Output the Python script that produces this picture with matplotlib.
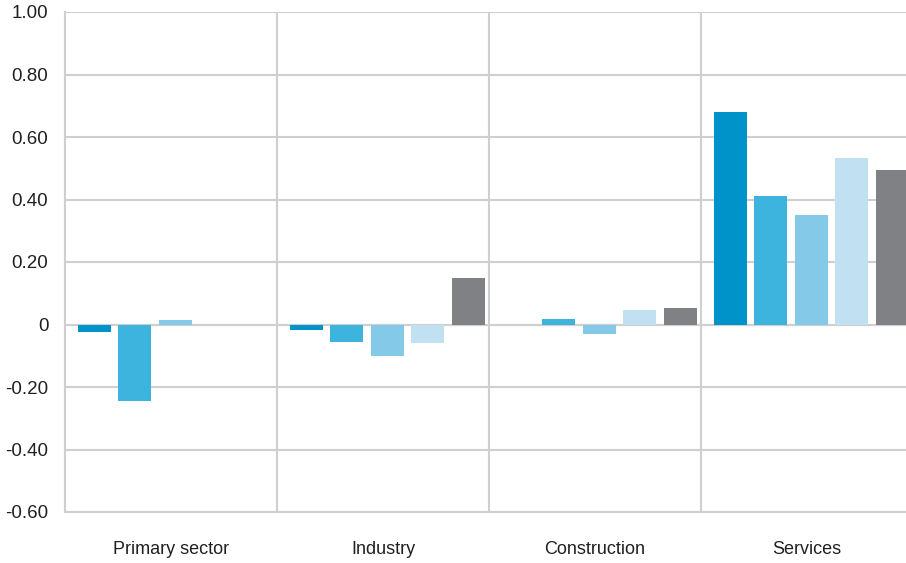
import matplotlib.pyplot as plt
import numpy as np

# Values
categories = ['Primary sector', 'Industry', 'Construction', 'Services']
series_1 = [-0.025, -0.018, 0.0, 0.68]
series_2 = [-0.245, -0.056, 0.018, 0.411]
series_3 = [0.015, -0.10, -0.03, 0.35]
series_4 = [0.0, -0.059, 0.046, 0.533]
series_5 = [0.0, 0.149, 0.053, 0.494]
yticks = [-0.6, -0.4, -0.2, 0, 0.2, 0.4, 0.6, 0.8, 1.0]
ytick_labels = ['-0.60', '-0.40', '-0.20', '0', '0.20', '0.40', '0.60', '0.80', '1.00']

colors = ['#0093c9', '#3db4dd', '#85c9e9', '#c1e1f2', '#808185']
all_series = [series_1, series_2, series_3, series_4, series_5]

plt.rcParams['font.family'] = ['Liberation Sans', 'DejaVu Sans']

W, H = 906, 563
fig = plt.figure(figsize=(W / 100, H / 100), dpi=100)
ax = fig.add_axes([65 / W, (H - 512) / H, (913 - 65) / W, (512 - 12) / H])

x = np.arange(len(categories)) + 0.5
pitch = 0.191
width = 0.156
for i, (vals, c) in enumerate(zip(all_series, colors)):
    ax.bar(x + (i - 2) * pitch + 0.02, vals, width=width, color=c, zorder=3)

ax.set_xlim(0, 4)
ax.set_ylim(-0.6, 1.0)
ax.set_yticks(yticks)
ax.set_yticklabels(ytick_labels, fontsize=13.5, color='#231f20')
ax.set_xticks(x)
ax.set_xticklabels(categories, fontsize=13, color='#231f20')
ax.tick_params(length=0)
ax.tick_params(axis='x', pad=21)
ax.tick_params(axis='y', pad=12)

ax.grid(axis='y', color='#cfcfcf', linewidth=1.5, zorder=1)
for b in [1, 2, 3]:
    ax.axvline(b, color='#cfcfcf', linewidth=1.5, zorder=1)
ax.axhline(0, color='#cfcfcf', linewidth=1.5, zorder=2)

for s in ['top', 'right']:
    ax.spines[s].set_visible(False)
for s in ['left', 'bottom']:
    ax.spines[s].set_color('#cfcfcf')
    ax.spines[s].set_linewidth(1.5)

fig.savefig('out.png', dpi=100)
